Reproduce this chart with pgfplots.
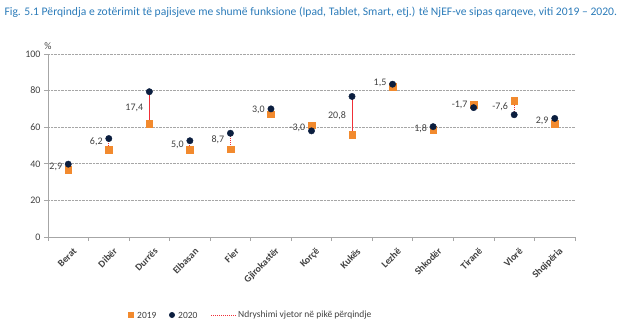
\documentclass[border=0pt]{standalone}
\usepackage{fontspec}
\setmainfont{Carlito}
\usepackage{pgfplots}
\usepackage{pgfplotstable}
\pgfplotsset{compat=1.18}
\definecolor{orng}{HTML}{F28A2E}
\definecolor{navy}{HTML}{0B1E3F}
\definecolor{ttl}{HTML}{2B7BB9}
\definecolor{gridc}{HTML}{A6A6A6}
\definecolor{txt}{HTML}{404040}
\definecolor{lred}{HTML}{F03038}
\tikzset{chg/.style={lred, line width=0.8pt, dash pattern=on 1.1pt off 0.9pt}}
\pgfplotstableread{
x y19 y20 mid lab
0 36.9 39.8 38.3 2,9
1 47.6 53.8 52.0 6,2
2 62.0 79.4 70.7 17,4
3 47.6 52.6 50.3 5,0
4 48.0 56.7 53.0 8,7
5 67.0 70.0 69.5 3,0
6 61.0 58.0 59.5 -3,0
7 56.0 76.8 66.4 20,8
8 82.0 83.5 84.0 1,5
9 58.5 60.3 59.0 1,8
10 72.4 70.7 72.3 -1,7
11 74.4 66.8 71.0 -7,6
12 61.9 64.8 63.4 2,9
}\data
\begin{document}
\begin{tikzpicture}
\begin{axis}[
  at={(0,0)}, anchor=south west,
  scale only axis, width=527pt, height=183pt,
  xmin=-0.5, xmax=12.5, ymin=0, ymax=100,
  ytick={0,20,...,100},
  xtick={0,...,12},
  minor xtick={-0.5,0.5,...,12.5},
  xticklabels={Berat,Dibër,Durrës,Elbasan,Fier,Gjirokastër,Korçë,Kukës,Lezhë,Shkodër,Tiranë,Vlorë,Shqipëria},
  x tick label style={rotate=45, anchor=east, font=\bfseries\fontsize{9.8}{10}\selectfont, text=txt, yshift=-11pt, xshift=2pt},
  y tick label style={font=\fontsize{10}{11}\selectfont, text=txt},
  /pgf/number format/assume math mode=true,
  major x tick style={draw=none},
  minor x tick style={draw=gridc, thick},
  minor tick length=4pt,
  xtick pos=left, ytick pos=left,
  tick align=outside,
  major y tick style={draw=gridc, thick},
  major tick length=4pt,
  axis x line*=bottom, axis y line*=left,
  axis line style={draw=gridc, thick},
  ymajorgrids, grid style={gridc, densely dotted, thick},
  clip=false,
]
\addplot[chg, forget plot] coordinates {(0,36.9)(0,39.8)};
\addplot[chg, forget plot] coordinates {(1,47.6)(1,53.8)};
\addplot[chg, forget plot] coordinates {(2,62.0)(2,79.4)};
\addplot[chg, forget plot] coordinates {(3,47.6)(3,52.6)};
\addplot[chg, forget plot] coordinates {(4,48.0)(4,56.7)};
\addplot[chg, forget plot] coordinates {(5,67.0)(5,70.0)};
\addplot[chg, forget plot] coordinates {(6,61.0)(6,58.0)};
\addplot[chg, forget plot] coordinates {(7,56.0)(7,76.8)};
\addplot[chg, forget plot] coordinates {(8,82.0)(8,83.5)};
\addplot[chg, forget plot] coordinates {(9,58.5)(9,60.3)};
\addplot[chg, forget plot] coordinates {(10,72.4)(10,70.7)};
\addplot[chg, forget plot] coordinates {(11,74.4)(11,66.8)};
\addplot[chg, forget plot] coordinates {(12,61.9)(12,64.8)};
\addplot[only marks, mark=square*, mark size=3.3pt, orng, forget plot] table[x=x, y=y19] {\data};
\addplot[only marks, mark=*, mark size=3.2pt, navy, forget plot] table[x=x, y=y20] {\data};
\addplot[only marks, mark=none, forget plot, nodes near coords, point meta=explicit symbolic,
  nodes near coords style={anchor=east, xshift=-5pt, inner sep=1pt, font=\fontsize{10}{11}\selectfont, text=txt}]
  table[x=x, y=mid, meta=lab] {\data};
\node[anchor=south, font=\fontsize{10}{11}\selectfont, text=txt] at (rel axis cs:0,1) [yshift=1pt] {\%};
\end{axis}
\node[anchor=west, font=\fontsize{11.6}{14}\selectfont, text=ttl] at (-47pt,225pt) {Fig. 5.1 Përqindja e zotërimit të pajisjeve me shumë funksione (Ipad, Tablet, Smart, etj.) të NjEF-ve sipas qarqeve, viti 2019 – 2020.};
\begin{scope}[font=\fontsize{9.5}{10}\selectfont]
\fill[orng] (80pt,-81pt) rectangle ++(6pt,6pt);
\node[anchor=west, inner sep=1pt] at (88pt,-78pt) {\textcolor{txt}{2019}};
\fill[navy] (124pt,-78pt) circle (3pt);
\node[anchor=west, inner sep=1pt] at (129pt,-78pt) {\textcolor{txt}{2020}};
\draw[chg] (163pt,-78pt) -- (188pt,-78pt);
\node[anchor=west, inner sep=1pt] at (189pt,-78pt) {\textcolor{txt}{Ndryshimi vjetor në pikë përqindje}};
\end{scope}
\path (-48pt,-97pt) rectangle (596pt,237pt);
\end{tikzpicture}
\end{document}
